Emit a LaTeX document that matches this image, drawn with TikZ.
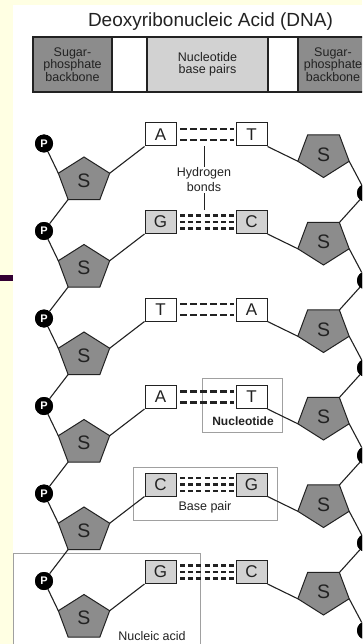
\documentclass[tikz,border=0pt]{standalone}
\usepackage{fontspec}
\setmainfont{Liberation Sans}
\usetikzlibrary{calc}
\definecolor{bgyellow}{HTML}{FFFFE3}
\definecolor{barpurple}{HTML}{330033}
\definecolor{sugargray}{HTML}{8C8C8C}
\definecolor{basegray}{HTML}{D2D2D2}
\definecolor{ink}{HTML}{222222}
\definecolor{framegray}{HTML}{A0A0A0}
\tikzset{
  bond/.style={line width=1.1pt, draw=ink},
  basebox/.style={draw=ink, line width=1pt, minimum width=31pt, minimum height=23pt, inner sep=0pt, font=\fontsize{17}{17}\selectfont, text=ink},
  pcircle/.style={circle, fill=black, minimum size=18pt, inner sep=0pt, text=white, font=\bfseries\fontsize{11}{11}\selectfont},
  sugar/.style={fill=sugargray, draw=ink, line width=1pt, line join=miter},
  slabel/.style={font=\fontsize{19.5}{19.5}\selectfont, text=ink, inner sep=0pt},
  hbondtwo/.style={line width=2.8pt, dash pattern=on 7pt off 3pt, draw=ink},
  hbondthree/.style={line width=2.8pt, dash pattern=on 5pt off 3.2pt, draw=ink},
  callout/.style={draw=framegray, line width=1pt, inner sep=0pt},
  lbl/.style={font=\fontsize{12.5}{15}\selectfont, text=ink, inner sep=1pt, align=center},
  hdr/.style={draw=ink, line width=1.2pt, inner sep=0pt, minimum height=55pt, align=center, font=\fontsize{12.5}{11.5}\selectfont, text=ink},
  titletext/.style={font=\fontsize{19}{21}\selectfont, text=ink, inner sep=0pt},
}
\begin{document}
\begin{tikzpicture}[x=1pt,y=-1pt]
\useasboundingbox (0,0) rectangle (362,644);
\clip (0,0) rectangle (362,644);
\fill[bgyellow] (0,0) rectangle (362,644);
\fill[white] (13,5) rectangle (362,644);
\fill[barpurple] (0,275) rectangle (13,281);

% title
\node[titletext, anchor=base] (title) at (210.5,27) {Deoxyribonucleic Acid (DNA)};

% header bar
\node[hdr, fill=sugargray, minimum width=79pt] (hl) at (72.5,64.5) {Sugar-\\phosphate\\backbone};
\node[hdr, fill=white, minimum width=35pt] (hg1) at (129.5,64.5) {};
\node[hdr, fill=basegray, minimum width=121pt] (hm) at (207.5,64.5) {Nucleotide\\base pairs};
\node[hdr, fill=white, minimum width=30pt] (hg2) at (283,64.5) {};
\node[hdr, fill=sugargray, minimum width=70pt] (hr) at (333,64.5) {Sugar-\\phosphate\\backbone};

% callout frames
\node[callout, minimum width=80pt, minimum height=54pt] (nucframe) at (242,405) {};
\node[callout, minimum width=144pt, minimum height=53pt] (bpframe) at (205,493.5) {};
\node[callout, minimum width=187pt, minimum height=100pt] (naframe) at (106.5,603) {};

% rows
\foreach \i/\l/\r/\f/\h in {0/A/T/white/2, 1/G/C/basegray/3, 2/T/A/white/2, 3/A/T/white/2, 4/C/G/basegray/3, 5/G/C/basegray/3}{
  \pgfmathsetmacro\y{134.5+87.5*\i}
  % left pentagon (point up)
  \coordinate (lt\i) at (84,\y+22.5);
  \coordinate (lur\i) at (109.68,\y+38.74);
  \coordinate (llr\i) at (99.87,\y+65.01);
  \coordinate (lll\i) at (68.13,\y+65.01);
  \coordinate (lul\i) at (58.32,\y+38.74);
  % right pentagon (point down)
  \coordinate (rb\i) at (323.5,\y+43);
  \coordinate (rlr\i) at (349.18,\y+26.76);
  \coordinate (rur\i) at (339.37,\y+0.49);
  \coordinate (rul\i) at (307.63,\y+0.49);
  \coordinate (rll\i) at (297.82,\y+26.76);
  % P nodes
  \node[pcircle] (lp\i) at (44,\y+9) {P};
  \node[pcircle] (rp\i) at (366,\y+58.5) {P};
  % base boxes
  \node[basebox, fill=\f] (bl\i) at (160.5,\y) {\l};
  \node[basebox, fill=\f] (br\i) at (251.5,\y) {\r};
  % connectors within row
  \draw[bond] (lp\i) -- (lul\i);
  \draw[bond] (lur\i) -- (bl\i.south west);
  \draw[bond] (br\i.south east) -- (rll\i);
  \draw[bond] (rlr\i) -- (rp\i);
  % sugars
  \path[sugar] (lt\i) -- (lur\i) -- (llr\i) -- (lll\i) -- (lul\i) -- cycle;
  \node[slabel] (ls\i) at (84,\y+46) {S};
  \path[sugar] (rb\i) -- (rlr\i) -- (rur\i) -- (rul\i) -- (rll\i) -- cycle;
  \node[slabel] (rs\i) at (323.5,\y+20) {S};
  % hydrogen bonds
  \ifnum\h=2
    \draw[hbondtwo] ($(bl\i.east)+(3.5,-5.5)$) -- ($(br\i.west)+(-2,-5.5)$);
    \draw[hbondtwo] ($(bl\i.east)+(3.5,5.5)$) -- ($(br\i.west)+(-2,5.5)$);
  \else
    \draw[hbondthree] ($(bl\i.east)+(3.5,-6.5)$) -- ($(br\i.west)+(-2,-6.5)$);
    \draw[hbondthree] ($(bl\i.east)+(3.5,0)$) -- ($(br\i.west)+(-2,0)$);
    \draw[hbondthree] ($(bl\i.east)+(3.5,6.5)$) -- ($(br\i.west)+(-2,6.5)$);
  \fi
}
% backbone links between rows
\foreach \i/\j in {0/1,1/2,2/3,3/4,4/5}{
  \draw[bond] (lll\i) -- (lp\j);
  \draw[bond] (rp\i) -- (rur\j);
}
% redraw P circles on top of links
\foreach \i in {0,...,5}{
  \node[pcircle] at (lp\i) {P};
  \node[pcircle] at (rp\i) {P};
}

% hydrogen bonds label
\coordinate (hbtop) at ($(bl0.south east)!0.5!(br0.south west)+(-2,0)$);
\coordinate (hbbot) at ($(bl1.north east)!0.5!(br1.north west)+(-2,0)$);
\node[lbl] (hb) at (204,180) {Hydrogen\\bonds};
\draw[ink, line width=0.9pt] (hbtop) -- (hb.north);
\draw[ink, line width=0.9pt] (hb.south) -- (hbbot);

% callout labels
\node[lbl, font=\bfseries\fontsize{12}{14}\selectfont] (nuclbl) at (243,421) {Nucleotide};
\node[lbl] (bplbl) at (205,507) {Base pair};
\node[lbl] (nalbl) at (152,636) {Nucleic acid};
\end{tikzpicture}
\end{document}
